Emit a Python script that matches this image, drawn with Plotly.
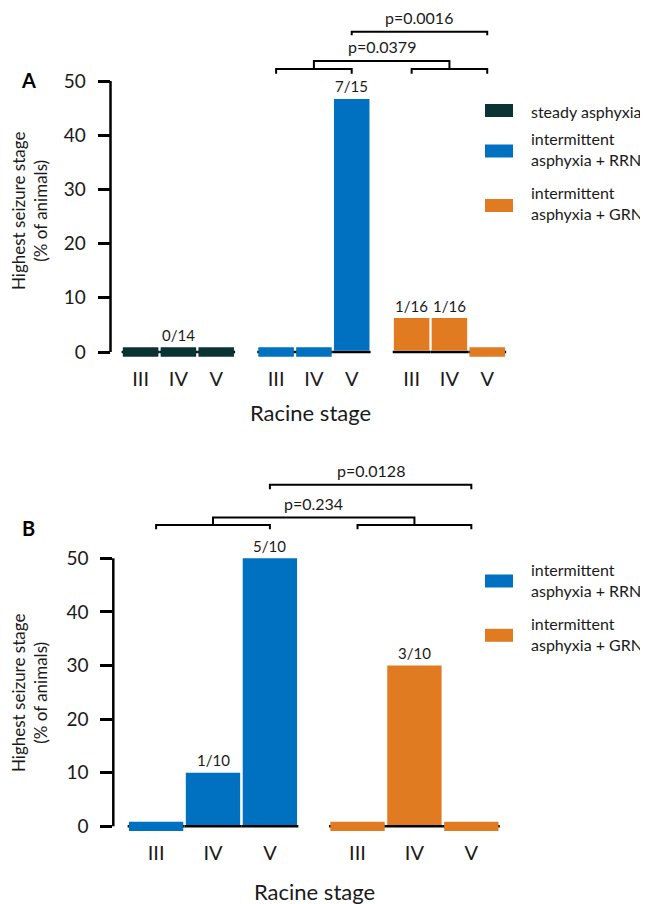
import plotly.graph_objects as go

# the page body has an 8px margin; the figure is sized so that it fills the window exactly
OFF = 8
FW, FH = 648 - OFF, 904 - OFF
FONT = "Lato"
TXT = "#1a1a1a"

# ---------------- data ----------------
stages = ["III", "IV", "V"]
y_ticks = [0, 10, 20, 30, 40, 50]

# Panel A
a_names = ["steady asphyxia", "intermittent<br>asphyxia + RRN", "intermittent<br>asphyxia + GRN"]
a_steady = [0, 0, 0]
a_rrn = [0, 0, 46.7]
a_grn = [6.25, 6.25, 0]
a_lab_steady = ["", "0/14", ""]
a_lab_rrn = ["", "", "7/15"]
a_lab_grn = ["1/16", "1/16", ""]
a_pvals = ["p=0.0379", "p=0.0016"]

# Panel B
b_names = ["intermittent<br>asphyxia + RRN", "intermittent<br>asphyxia + GRN"]
b_rrn = [0, 10, 50]
b_grn = [0, 30, 0]
b_lab_rrn = ["", "1/10", "5/10"]
b_lab_grn = ["", "3/10", ""]
b_pvals = ["p=0.234", "p=0.0128"]

c_steady = "#0a3434"
c_rrn = "#0070c0"
c_grn = "#e07b22"

# ---------------- geometry helpers ----------------
ZH = 0.87   # half height of the stub drawn for zero-valued bars
LH = 0.22   # half thickness of the black baseline


def px(v):
    return (v - OFF) / FW


def py(v):
    return 1 - (v - OFF) / FH


def axes_geom(axis_px, x0_px, slot, right_px, zero_px, ppu, yr):
    xr = [(axis_px - x0_px) / slot, (right_px - x0_px) / slot]
    xd = [px(axis_px), px(right_px)]
    top = zero_px - ppu * yr[1]
    bot = zero_px - ppu * yr[0]
    yd = [py(bot), py(top)]
    return xr, xd, yd


fig = go.Figure()


def add_panel(xa, ya, pitch, width, series, colors, labels):
    n = len(series)
    # black baseline under each group
    for g in range(n):
        xs = [g * pitch + j for j in range(len(stages))]
        fig.add_trace(go.Bar(x=xs, y=[2 * LH] * len(xs), base=[-LH] * len(xs), width=1.0,
                             marker=dict(color="black", line=dict(width=0)),
                             xaxis=xa, yaxis=ya, showlegend=False, hoverinfo="skip"))
    for g, (vals, col) in enumerate(zip(series, colors)):
        xs = [g * pitch + j for j in range(len(stages))]
        base = [LH if v > 0 else -ZH for v in vals]
        hgt = [v - LH if v > 0 else 2 * ZH for v in vals]
        fig.add_trace(go.Bar(x=xs, y=hgt, base=base, width=width,
                             marker=dict(color=col, line=dict(width=0)), opacity=1,
                             xaxis=xa, yaxis=ya, showlegend=False,
                             customdata=vals, hovertemplate="%{customdata}<extra></extra>"))
        for xx, v, t in zip(xs, vals, labels[g]):
            if t:
                fig.add_annotation(x=xx, y=max(v, ZH), xref=xa, yref=ya, text=t, showarrow=False,
                                   xanchor="center", yanchor="middle", yshift=12.5,
                                   font=dict(family=FONT, size=15, color=TXT))


def add_brackets(xa, ya, off, pitch, low, conn, up, leg_low, leg_up, pvals):
    lw = dict(color="black", width=2)
    g1 = [off, off + 2]
    g2 = [off + pitch, off + pitch + 2]
    for a, b in (g1, g2):
        fig.add_shape(type="path", xref=xa, yref=ya, line=lw,
                      path=f"M {a},{low - leg_low} L {a},{low} L {b},{low} L {b},{low - leg_low}")
    m1, m2 = off + 1, off + pitch + 1
    fig.add_shape(type="path", xref=xa, yref=ya, line=lw,
                  path=f"M {m1},{low} L {m1},{conn} L {m2},{conn} L {m2},{low}")
    v1, v2 = off + 2, off + pitch + 2
    fig.add_shape(type="path", xref=xa, yref=ya, line=lw,
                  path=f"M {v1},{up - leg_up} L {v1},{up} L {v2},{up} L {v2},{up - leg_up}")
    fig.add_annotation(x=(m1 + m2) / 2, y=conn, xref=xa, yref=ya, text=pvals[0], showarrow=False,
                       xanchor="center", yanchor="middle", yshift=14,
                       font=dict(family=FONT, size=16, color=TXT))
    fig.add_annotation(x=(v1 + v2) / 2, y=up, xref=xa, yref=ya, text=pvals[1], showarrow=False,
                       xanchor="center", yanchor="middle", yshift=14,
                       font=dict(family=FONT, size=16, color=TXT))


# ---------------- panel A ----------------
A_PITCH = 3.585
A_YR = [-2, 62.5]
a_xr, a_xd, a_yd = axes_geom(110.5, 140.6, 37.8, 520, 352, 5.42, A_YR)
add_panel("x", "y", A_PITCH, 0.94, [a_steady, a_rrn, a_grn], [c_steady, c_rrn, c_grn],
          [a_lab_steady, a_lab_rrn, a_lab_grn])
add_brackets("x", "y", A_PITCH, A_PITCH, 52.2, 53.7, 59.1, 0.85, 0.65, a_pvals)

# ---------------- panel B ----------------
B_PITCH = 3.54
B_YR = [-2, 68]
b_xr, b_xd, b_yd = axes_geom(113.3, 156.1, 56.9, 520, 826.3, 5.36, B_YR)
add_panel("x2", "y2", B_PITCH, 0.955, [b_rrn, b_grn], [c_rrn, c_grn],
          [b_lab_rrn, b_lab_grn])
add_brackets("x2", "y2", 0, B_PITCH, 56.2, 57.6, 63.7, 0.8, 0.8, b_pvals)

# y axis lines (only from 0 to 50)
for xa, ya in (("x", "y"), ("x2", "y2")):
    fig.add_shape(type="line", xref=f"{xa} domain", yref=ya, x0=0, x1=0, y0=0, y1=max(y_ticks),
                  line=dict(color="black", width=2.5))


def xaxis_cfg(xr, xd, pitch, ngroups, anchor):
    tv, tt = [], []
    for g in range(ngroups):
        for j, s in enumerate(stages):
            tv.append(g * pitch + j)
            tt.append(s)
    return dict(domain=xd, range=xr, anchor=anchor, tickvals=tv, ticktext=tt, ticks="",
                showline=False, showgrid=False, zeroline=False, ticklabelstandoff=2,
                tickfont=dict(family=FONT, size=20, color=TXT))


def yaxis_cfg(yd, yr, anchor):
    return dict(domain=yd, range=yr, anchor=anchor, tickvals=y_ticks, ticks="outside", ticklen=12,
                tickwidth=2.5, tickcolor="black", showline=False, showgrid=False, zeroline=False,
                ticklabelstandoff=8, tickfont=dict(family=FONT, size=19, color=TXT))


fig.update_layout(
    width=FW, height=FH, margin=dict(l=0, r=0, t=0, b=0),
    paper_bgcolor="white", plot_bgcolor="white",
    barmode="overlay", showlegend=False,
    font=dict(family=FONT, color=TXT),
    xaxis=xaxis_cfg(a_xr, a_xd, A_PITCH, 3, "y"),
    yaxis=yaxis_cfg(a_yd, A_YR, "x"),
    xaxis2=xaxis_cfg(b_xr, b_xd, B_PITCH, 2, "y2"),
    yaxis2=yaxis_cfg(b_yd, B_YR, "x2"),
)


def paper_text(x, y, text, size, **kw):
    fig.add_annotation(x=px(x), y=py(y), xref="paper", yref="paper", text=text, showarrow=False,
                       xanchor=kw.pop("xanchor", "center"), yanchor="middle",
                       font=dict(family=FONT, size=size, color=kw.pop("color", TXT)), **kw)


# panel letters, axis titles
for t, yy in (("A", 80), ("B", 528)):
    paper_text(28, yy, f"<b>{t}</b>", 20, color="black")
for yy in (211, 693):
    paper_text(29, yy, "Highest seizure stage<br>(% of animals)", 17, textangle=-90)
for xx, yy in ((310, 412.5), (314, 891.5)):
    paper_text(xx, yy, "Racine stage", 22)


# manual legends
def legend_entry(name, col, sq_cy, txt_cy):
    fig.add_shape(type="rect", xref="paper", yref="paper", x0=px(485), x1=px(513),
                  y0=py(sq_cy + 6.5), y1=py(sq_cy - 6.5), fillcolor=col, line=dict(width=0))
    paper_text(529, txt_cy, name, 16, xanchor="left", align="left")


legend_entry(a_names[0], c_steady, 110.5, 111.5)
legend_entry(a_names[1], c_rrn, 151, 149)
legend_entry(a_names[2], c_grn, 205.5, 203)
legend_entry(b_names[0], c_rrn, 581, 580)
legend_entry(b_names[1], c_grn, 635.3, 634)

fig.write_html("out.html")
